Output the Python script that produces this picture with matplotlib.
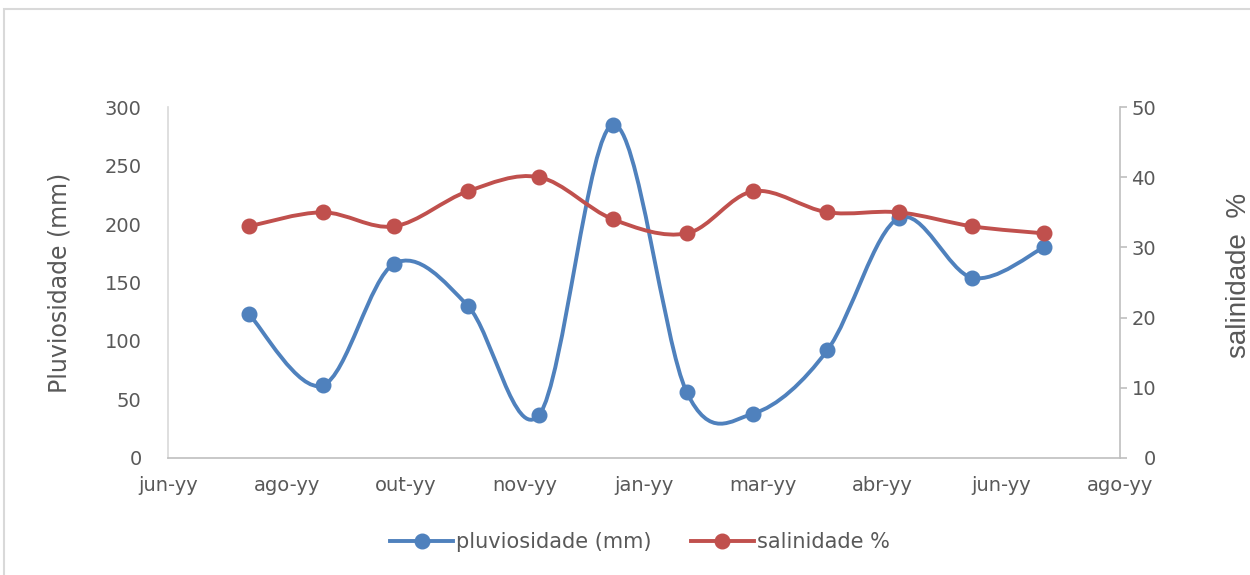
import datetime as dt

import numpy as np
import matplotlib
matplotlib.use("Agg")
import matplotlib.pyplot as plt
from matplotlib.path import Path
from matplotlib.patches import PathPatch, Rectangle
from matplotlib.lines import Line2D
import matplotlib.dates as mdates

# monthly samples
sample_dates = ["2001-08-01", "2001-09-01", "2001-10-01", "2001-11-01",
                "2001-12-01", "2002-01-01", "2002-02-01", "2002-03-01",
                "2002-04-01", "2002-05-01", "2002-06-01", "2002-07-01"]
pluviosidade = [123, 62, 166, 130, 37, 285, 56, 38, 92, 205, 154, 180]
salinidade = [33, 35, 33, 38, 40, 34, 32, 38, 35, 35, 33, 32]

axis_start = "2001-06-28"
tick_step_days = 50
tick_labels = ["jun-yy", "ago-yy", "out-yy", "nov-yy", "jan-yy",
               "mar-yy", "abr-yy", "jun-yy", "ago-yy"]

BLUE = "#4F81BD"
RED = "#C0504D"
GRID = "#BFBFBF"
TXT = "#595959"


def smooth_path(xs, ys):
    # excel-like smoothed line: catmull-rom as cubic beziers
    pts = np.column_stack([xs, ys]).astype(float)
    ext = np.vstack([pts[0], pts, pts[-1]])
    verts = [pts[0]]
    codes = [Path.MOVETO]
    for i in range(len(pts) - 1):
        p0, p1, p2, p3 = ext[i], ext[i + 1], ext[i + 2], ext[i + 3]
        verts += [p1 + (p2 - p0) / 6, p2 - (p3 - p1) / 6, p2]
        codes += [Path.CURVE4] * 3
    return Path(verts, codes)


x = mdates.date2num([dt.date.fromisoformat(d) for d in sample_dates])
x0 = mdates.date2num(dt.date.fromisoformat(axis_start))
ticks = x0 + tick_step_days * np.arange(len(tick_labels))

fig = plt.figure(figsize=(12.5, 5.75), dpi=100)
ax = fig.add_axes([0.1344, 0.2035, 0.7616, 0.6104])
ax2 = ax.twinx()

ax.add_patch(PathPatch(smooth_path(x, pluviosidade), fc="none", ec=BLUE,
                       lw=2.8, capstyle="round", joinstyle="round"))
ax.plot(x, pluviosidade, "o", color=BLUE, ms=10.5)
ax2.add_patch(PathPatch(smooth_path(x, salinidade), fc="none", ec=RED,
                        lw=2.8, capstyle="round", joinstyle="round"))
ax2.plot(x, salinidade, "o", color=RED, ms=10.5)

ax.set_xlim(ticks[0], ticks[-1])
ax.set_ylim(0, 300)
ax2.set_ylim(0, 50)
ax.set_xticks(ticks)
ax.set_xticklabels(tick_labels)
ax.set_yticks(np.arange(0, 301, 50))
ax2.set_yticks(np.arange(0, 51, 10))

for s in ["top", "right"]:
    ax.spines[s].set_visible(False)
for s in ["top", "left", "bottom"]:
    ax2.spines[s].set_visible(False)
for sp in [ax.spines["left"], ax.spines["bottom"], ax2.spines["right"]]:
    sp.set_color(GRID)
    sp.set_linewidth(1.2)
ax.spines["left"].set_color("#D9D9D9")

ax.tick_params(axis="x", length=0, pad=13, labelsize=14, labelcolor=TXT)
ax.tick_params(axis="y", length=0, pad=19, labelsize=14, labelcolor=TXT)
ax2.tick_params(axis="y", length=5, width=1.2, color=GRID, pad=21,
                labelsize=14, labelcolor=TXT)
for lab in ax2.get_yticklabels():
    lab.set_horizontalalignment("right")

ax.set_ylabel("Pluviosidade (mm)", fontsize=17, color=TXT)
ax.yaxis.set_label_coords(-0.101, 0.5)
ax2.set_ylabel("salinidade  %", fontsize=20, color=TXT, family="Liberation Sans")
ax2.yaxis.set_label_coords(1.111, 0.52)

handles = [
    Line2D([], [], color=BLUE, lw=2.8, marker="o", ms=10.5),
    Line2D([], [], color=RED, lw=2.8, marker="o", ms=10.5),
]
leg = fig.legend(handles, ["pluviosidade (mm)", "salinidade %"],
                 loc="center", bbox_to_anchor=(0.512, 0.057), ncol=2,
                 frameon=False, fontsize=15, handlelength=3.0,
                 handletextpad=0.15, columnspacing=1.9)
for t in leg.get_texts():
    t.set_color(TXT)

# chart border
fig.add_artist(Rectangle((0.0032, -0.2), 1.2, 1.1843, transform=fig.transFigure,
                         fc="none", ec="#D9D9D9", lw=1.5, clip_on=False))

fig.savefig("out.png", dpi=100)
